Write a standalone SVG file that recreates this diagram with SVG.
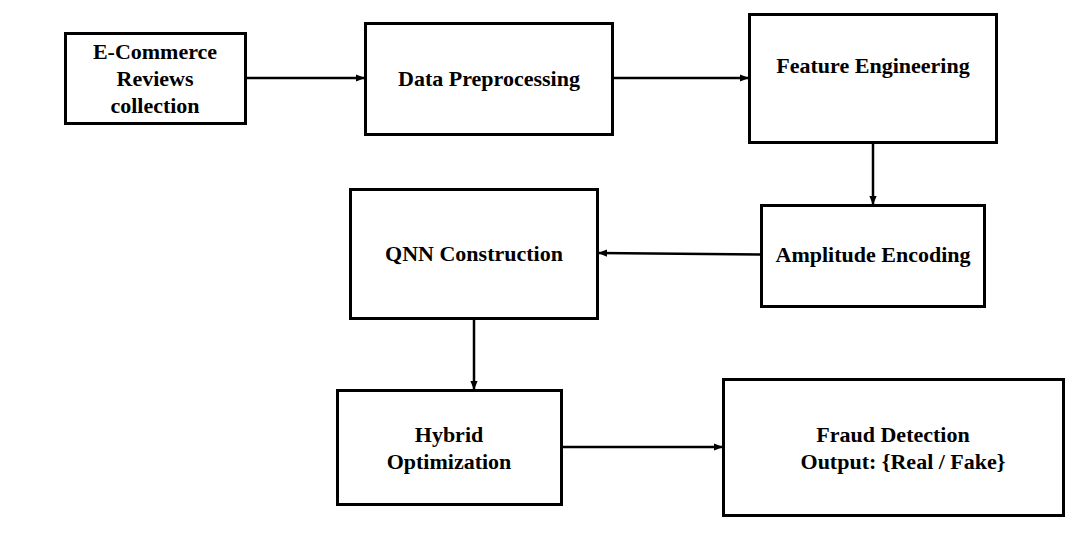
<svg xmlns="http://www.w3.org/2000/svg" width="1089" height="546" viewBox="0 0 1089 546">
<style>
.box{fill:#fff;stroke:#000;stroke-width:3}
.t{font-family:"Liberation Serif","Times New Roman",serif;font-weight:bold;font-size:22px;fill:#000;text-anchor:middle}
.c{stroke:#000;stroke-width:2.5;fill:none;marker-end:url(#ah)}
</style>
<defs>
<marker id="ah" viewBox="0 0 10 10" refX="10" refY="5" markerWidth="9" markerHeight="9" markerUnits="userSpaceOnUse" orient="auto">
<path d="M0,1 L10,5 L0,9 Z" fill="#000"/>
</marker>
</defs>
<rect width="1089" height="546" fill="#fff"/>
<g id="connectors">
<line class="c" x1="246" y1="78" x2="365" y2="78"/>
<line class="c" x1="613" y1="78" x2="749" y2="78"/>
<line class="c" x1="873" y1="143" x2="873" y2="205"/>
<line class="c" x1="760" y1="254.5" x2="598" y2="253"/>
<line class="c" x1="474" y1="319" x2="474" y2="390"/>
<line class="c" x1="562" y1="447" x2="723" y2="447"/>
</g>
<g id="n1"><rect class="box" x="65.5" y="33.5" width="180" height="90"/>
<text class="t" x="155" y="59">E-Commerce</text><text class="t" x="155" y="86">Reviews</text><text class="t" x="155" y="113">collection</text></g>
<g id="n2"><rect class="box" x="365.5" y="23.5" width="247" height="111"/>
<text class="t" x="489" y="86">Data Preprocessing</text></g>
<g id="n3"><rect class="box" x="749.5" y="14.5" width="247" height="128"/>
<text class="t" x="873" y="73">Feature Engineering</text></g>
<g id="n4"><rect class="box" x="761.5" y="205.5" width="223" height="101"/>
<text class="t" x="873" y="262">Amplitude Encoding</text></g>
<g id="n5"><rect class="box" x="350.5" y="189.5" width="247" height="129"/>
<text class="t" x="474" y="261">QNN Construction</text></g>
<g id="n6"><rect class="box" x="337.5" y="390.5" width="224" height="114"/>
<text class="t" x="449" y="442">Hybrid</text><text class="t" x="449" y="469">Optimization</text></g>
<g id="n7"><rect class="box" x="723.5" y="379.5" width="340" height="136"/>
<text class="t" x="893" y="442">Fraud Detection</text><text class="t" x="903" y="469">Output: {Real / Fake}</text></g>
</svg>
